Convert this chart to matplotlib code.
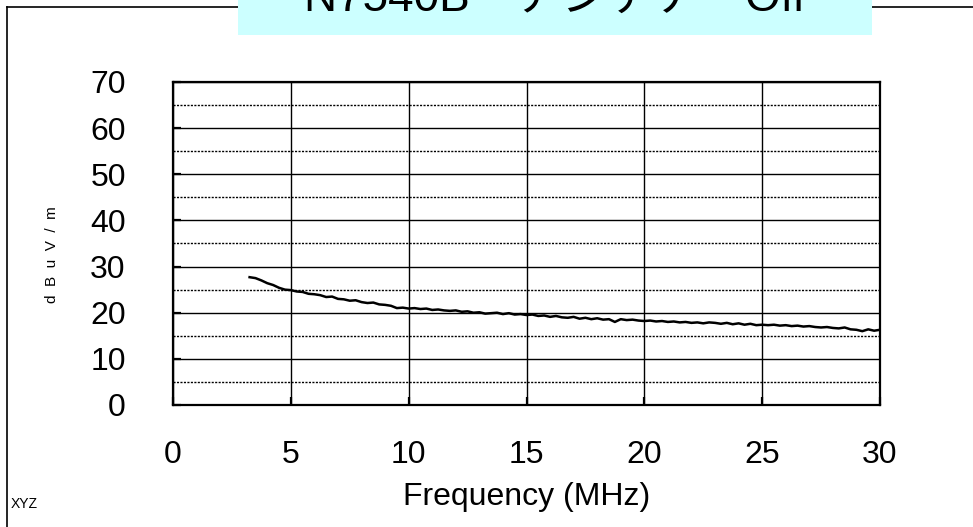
import numpy as np
import matplotlib
matplotlib.use("Agg")
import matplotlib.pyplot as plt
from matplotlib.lines import Line2D
from matplotlib.patches import Rectangle

plt.rcParams['font.family'] = ['Liberation Sans', 'Noto Sans CJK JP', 'DejaVu Sans']

title = "N7540B\u3000アンテナ\u3000Off"
xlabel = "Frequency (MHz)"
ylabel = "d  B  u  V  /  m"
corner_note = "XYZ"

# sweep level in dBuV/m, every 0.25 MHz from 3.25 MHz
f_start = 3.25
f_step = 0.25
level = [
    27.7, 27.5, 27.0, 26.4, 26.0, 25.4, 25.0, 24.9, 24.6, 24.5,
    24.1, 24.0, 23.8, 23.4, 23.5, 23.0, 22.9, 22.6, 22.7, 22.3,
    22.1, 22.2, 21.8, 21.7, 21.5, 21.0, 21.1, 20.9, 21.0, 20.8,
    20.9, 20.6, 20.7, 20.5, 20.4, 20.5, 20.2, 20.3, 20.0, 20.1,
    19.8, 19.9, 20.0, 19.7, 19.9, 19.6, 19.7, 19.5, 19.6, 19.3,
    19.4, 19.1, 19.3, 19.0, 18.9, 19.1, 18.7, 18.9, 18.6, 18.8,
    18.5, 18.6, 18.0, 18.6, 18.4, 18.5, 18.3, 18.2, 18.3, 18.1,
    18.2, 18.0, 18.1, 17.9, 18.0, 17.8, 17.9, 17.7, 17.9, 17.8,
    17.6, 17.8, 17.5, 17.7, 17.4, 17.6, 17.3, 17.4, 17.3, 17.4,
    17.2, 17.3, 17.1, 17.2, 17.0, 17.1, 16.9, 16.8, 16.9, 16.7,
    16.6, 16.8, 16.4, 16.3, 16.0, 16.4, 16.1, 16.3,
]
freq = f_start + f_step * np.arange(len(level))

x_ticks = [0, 5, 10, 15, 20, 25, 30]
y_ticks = [0, 10, 20, 30, 40, 50, 60, 70]
y_minor = [5, 15, 25, 35, 45, 55, 65]

W, H = 973, 527
fig = plt.figure(figsize=(W / 100, H / 100), dpi=100)

# outer frame (left + top edge), broken by the title box
fig.add_artist(Line2D([7 / W, 7 / W], [0, 1 - 7 / H], color='black', lw=1.2, transform=fig.transFigure))
fig.add_artist(Line2D([7 / W, 1], [1 - 7 / H, 1 - 7 / H], color='black', lw=1.2, transform=fig.transFigure))
fig.add_artist(Rectangle((238 / W, 1 - 35 / H), (872 - 238) / W, 35 / H,
                         facecolor='#ccffff', edgecolor='none', transform=fig.transFigure, zorder=3))
# title sits mostly above the canvas, as in the original
fig.text(555 / W, 1 - 11 / H, title, fontsize=33, ha='center', va='baseline', zorder=4)

ax = fig.add_axes([173 / W, (H - 405) / H, 707 / W, 323 / H])
ax.plot(freq, level, color='black', lw=1.8, zorder=3)

ax.set_xlim(0, 30)
ax.set_ylim(0, 70)
ax.set_xticks(x_ticks)
ax.set_yticks(y_ticks)
ax.set_yticks(y_minor, minor=True)
ax.grid(True, which='major', color='black', lw=1.0)
ax.grid(True, which='minor', axis='y', color='black', lw=1.0, ls=(0, (1.5, 1)))
ax.set_axisbelow(True)
for s in ax.spines.values():
    s.set_linewidth(1.6)
ax.tick_params(axis='both', which='major', direction='in', length=6, width=1.6, labelsize=23)
ax.tick_params(axis='x', pad=25)
ax.tick_params(axis='y', pad=34)
ax.tick_params(axis='y', which='minor', length=0)

ax.set_xlabel(xlabel, fontsize=23, labelpad=9)
fig.text(52 / W, 1 - 255 / H, ylabel, fontsize=11, rotation=90, ha='center', va='center')
fig.text(24 / W, 1 - 504 / H, corner_note, fontsize=10, ha='center', va='center')

fig.savefig('out.png', dpi=100)
